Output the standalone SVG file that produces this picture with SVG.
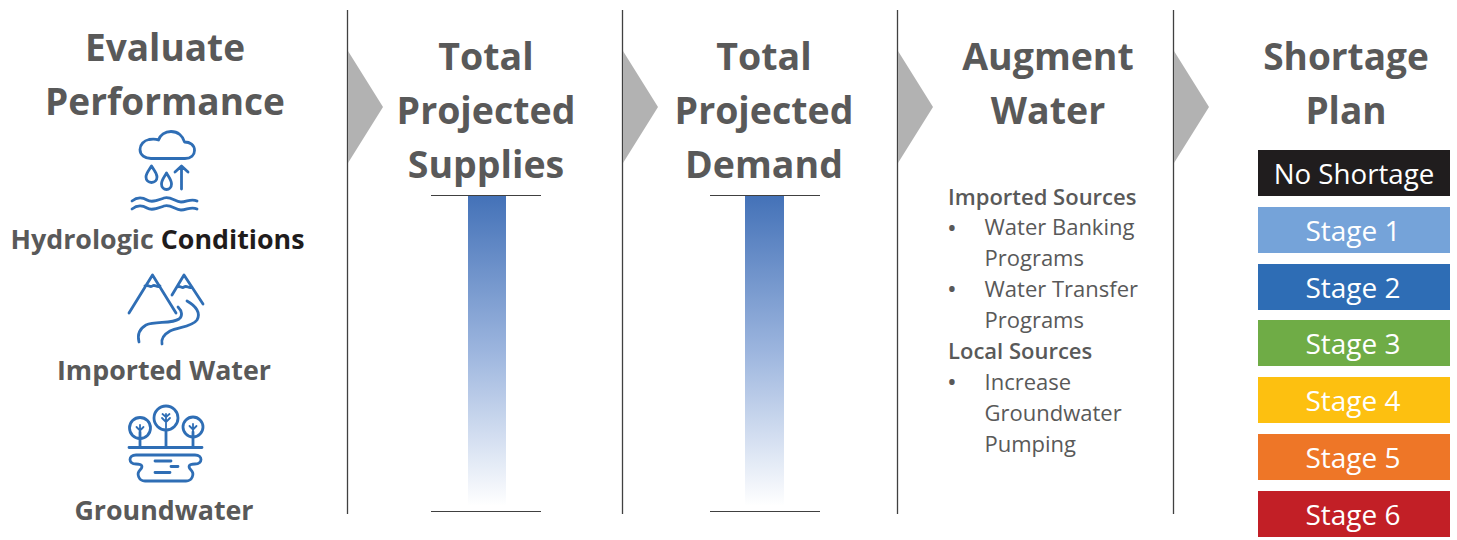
<svg xmlns="http://www.w3.org/2000/svg" width="1457" height="540" viewBox="0 0 1457 540">
<style>
text{font-family:"Open Sans","Noto Sans","Liberation Sans",sans-serif;fill:#595959}
.t{font-size:37.500px;font-weight:700;text-anchor:middle}
.e{font-size:37px}
.l{font-size:26.800px;font-weight:700;text-anchor:middle}
.b{font-size:22px;font-weight:600}
.r{font-size:22px}
.u{font-size:26px}
.s{font-size:28px;fill:#fff;text-anchor:middle}
.n{font-size:27.700px}
.i{fill:none;stroke:#2f6eb5;stroke-width:2.800;stroke-linecap:round;stroke-linejoin:round}
.d{stroke:#404040;stroke-width:1.300}
.c{fill:#b2b2b2}
.h{stroke:#404040;stroke-width:1.200}
</style>
<defs><linearGradient id="g" x1="0" y1="0" x2="0" y2="1"><stop offset="0" stop-color="#4472b8"/><stop offset="0.5" stop-color="#9cb5de"/><stop offset="1" stop-color="#fff"/></linearGradient></defs>
<g id="connectors">
<path class="d" d="M347.500 10V514M622.500 10V514M897.500 10V514M1173.500 10V514"/>
<path class="c" d="M348 51L383 107L348 163ZM623 51L658 107L623 163ZM898 51L933 107L898 163ZM1174 51L1209 107L1174 163Z"/>
</g>
<g id="evaluate">
<text class="t e" x="165" y="61">Evaluate</text>
<text class="t e" x="165" y="115">Performance</text>
</g>
<g id="hydrologic">
<path class="i" d="M157 158.500H185C191 158.500 194.500 155 194.500 150.500C194.500 145 190 142 184.500 142C183 136 178 131.500 171 131.500C165 131.500 160 135 158.500 140C156 139 152 139 149 139.500C144 140.500 140 144.500 140 149.500C140 155 145 158.500 151 158.500Z"/>
<path class="i" d="M151.500 166C149 170.500 146 173 146 177C146 180.500 148.500 182.500 151.500 182.500C154.500 182.500 157 180.500 157 177C157 173 154 170.500 151.500 166ZM166.500 173C164 177.500 161.500 180 161.500 184C161.500 187.500 164 189.500 166.500 189.500C169 189.500 171.500 187.500 171.500 184C171.500 180 169 177.500 166.500 173ZM181.500 189V167M175 172L181.500 166L188 172"/>
<path class="i" d="M132 201C137 197 142 197 147 200C152 203 158 200 164 198C171 196 175 202 181 202C187 202 191 198 197 201M132 209C137 205 142 205 147 208C152 211 158 208 164 206C171 204 175 210 181 210C187 210 191 206 197 209"/>
<text class="l" x="157.500" y="249"><tspan>Hydrologic </tspan><tspan style="fill:#1f1c1c">Conditions</tspan></text>
</g>
<g id="imported">
<path class="i" d="M129 313L152.500 275L176 313M172 295L184 275L203 304M145 286C148 284 150 288 152.500 286C155 284 157 288 160 286M177 287C180 285 182 289 184 287C187 285 189 289 192 287"/>
<path class="i" d="M178 307C182 311 183 316 179 319C172 324 155 321 146 325C139 329 137 334 139 342M187 301C196 306 201 313 197 320C192 327 178 327 170 331C163 335 161 339 162 344"/>
<text class="l" x="164" y="380">Imported Water</text>
</g>
<g id="groundwater">
<path class="i" d="M129 447.500H202M140 447.500V432M166 447.500V430M193 447.500V432"/>
<circle class="i" cx="140" cy="428" r="10.500"/><circle class="i" cx="166" cy="418" r="12"/><circle class="i" cx="193" cy="427" r="10"/>
<path class="i" style="stroke-width:1.800" d="M140 432V425M136.500 427L140 430.500L143.500 427M166 428V414M162 418L166 422L170 418M162.500 414L166 417L169.500 414M193 431V424M189.500 426L193 429.500L196.500 426"/>
<path class="i" d="M136 455H195C203 455 203 464 195 464C188 464 188 467 191 470C195 474 192 481 186 481H145C139 481 136 474 140 470C143 467 143 464 136 464C128 464 128 455 136 455ZM155 461H171M171 466.500H178M155 472.500H170"/>
<text class="l" x="164" y="520">Groundwater</text>
</g>
<g id="supplies">
<text class="t" x="486" y="70">Total</text><text class="t" x="486" y="124">Projected</text><text class="t" x="486" y="178">Supplies</text>
<rect x="468" y="196" width="38" height="310" fill="url(#g)"/>
<path class="h" d="M431 195.500H541M431 511.500H541"/>
</g>
<g id="demand">
<text class="t" x="764" y="70">Total</text><text class="t" x="764" y="124">Projected</text><text class="t" x="764" y="178">Demand</text>
<rect x="745" y="196" width="39" height="310" fill="url(#g)"/>
<path class="h" d="M710 195.500H820M710 511.500H820"/>
</g>
<g id="augment">
<text class="t" x="1048" y="70">Augment</text><text class="t" x="1048" y="124">Water</text>
<text class="b" x="948" y="205">Imported Sources</text>
<text class="u" x="947" y="237">•</text><text class="r" x="984.500" y="235">Water Banking</text>
<text class="r" x="984.500" y="266">Programs</text>
<text class="u" x="947" y="298">•</text><text class="r" x="984.500" y="297">Water Transfer</text>
<text class="r" x="984.500" y="328">Programs</text>
<text class="b" x="948" y="359">Local Sources</text>
<text class="u" x="947" y="391">•</text><text class="r" x="984.500" y="390">Increase</text>
<text class="r" x="984.500" y="421">Groundwater</text>
<text class="r" x="984.500" y="452">Pumping</text>
</g>
<g id="shortage">
<text class="t e" x="1346" y="70">Shortage</text><text class="t e" x="1346" y="124">Plan</text>
<rect x="1258" y="150" width="192" height="46" fill="#201d1e"/><text class="s n" x="1354" y="184">No Shortage</text>
<rect x="1258" y="207" width="192" height="46" fill="#75a3d9"/><text class="s" x="1353" y="241">Stage 1</text>
<rect x="1258" y="264" width="192" height="46" fill="#2e6db5"/><text class="s" x="1353" y="298">Stage 2</text>
<rect x="1258" y="320" width="192" height="46" fill="#6fac46"/><text class="s" x="1353" y="354">Stage 3</text>
<rect x="1258" y="377" width="192" height="46" fill="#fdc010"/><text class="s" x="1353" y="411">Stage 4</text>
<rect x="1258" y="434" width="192" height="46" fill="#ee7627"/><text class="s" x="1353" y="468">Stage 5</text>
<rect x="1258" y="491" width="192" height="46" fill="#c21f26"/><text class="s" x="1353" y="525">Stage 6</text>
</g>
</svg>
